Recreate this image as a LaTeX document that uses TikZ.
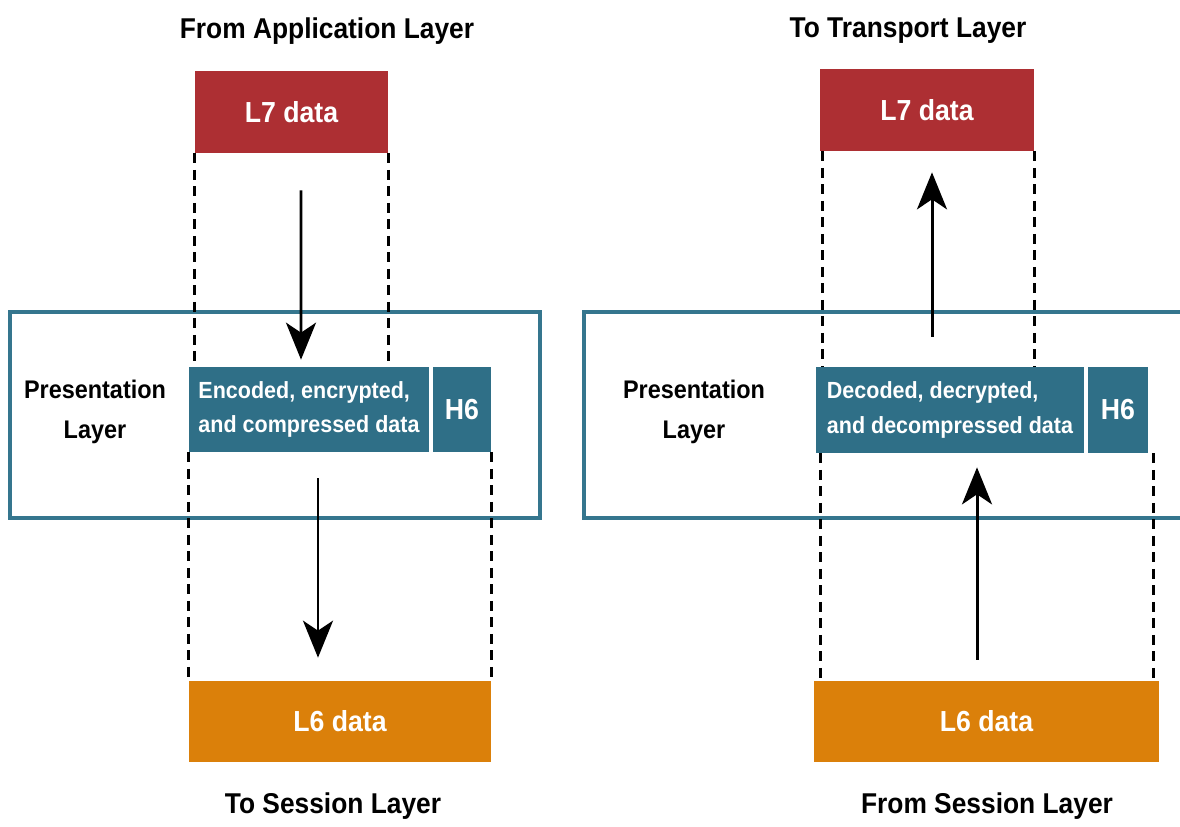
\documentclass[tikz,border=0pt]{standalone}
\usepackage{fontspec}
\setmainfont{Liberation Sans}[FakeStretch=0.92]
\usepackage{tikz}
\usetikzlibrary{arrows.meta,calc}
\definecolor{l7red}{HTML}{AD2F33}
\definecolor{p6teal}{HTML}{2F6F87}
\definecolor{frameteal}{HTML}{35768E}
\definecolor{l6orange}{HTML}{DB800A}

\begin{document}
\begin{tikzpicture}[x=0.02cm,y=-0.02cm,
  databox/.style={rectangle,inner sep=0pt,text=white,minimum height=1.64cm,
    font=\bfseries\fontsize{16.5}{19}\selectfont},
  title/.style={font=\bfseries\fontsize{16.3}{19}\selectfont},
  sidelabel/.style={align=center,font=\bfseries\fontsize{14.5}{22.7}\selectfont},
  inner/.style={align=left,font=\bfseries\fontsize{13.3}{19.5}\selectfont},
  guide/.style={line width=1.7pt,dash pattern=on 0.2cm off 0.13cm},
  flow/.style={line width=1.7pt,-{Stealth[length=0.74cm,width=0.6cm,inset=0.2cm]}},
  layer/.style={draw=frameteal,line width=2.3pt}]
\useasboundingbox (0,0) rectangle (1180,826);

% ---- sending side
\node[title] (fromapp) at (327,31) {From Application Layer};
\node[databox,fill=l7red,minimum width=3.86cm] (l7a) at (291.5,112) {L7 data};
\draw[layer] (10,312) rectangle (540,518);
\node[sidelabel] (presa) at (95,412) {Presentation\\Layer};
\node[databox,fill=p6teal,minimum width=4.8cm,minimum height=1.7cm,inner] (enca) at (309,409.5)
  {Encoded, encrypted,\\and compressed data};
\node[databox,fill=p6teal,minimum width=1.16cm,minimum height=1.7cm] (h6a) at (462,409.5) {H6};
\node[databox,fill=l6orange,minimum width=6.04cm,minimum height=1.62cm] (l6a) at (340,721.5) {L6 data};
\node[title] (tosess) at (333,806) {To Session Layer};

\draw[guide] (l7a.south west) -- (l7a.south west |- enca.north);
\draw[guide] (l7a.south east) -- (l7a.south east |- enca.north);
\draw[guide] (enca.south west) -- (enca.south west |- l6a.north);
\draw[guide] (h6a.south east) -- (h6a.south east |- l6a.north);
\draw[flow] ($(l7a.south)+(9.5,37)$) -- ($(enca.north)+(-8,-7)$);
\draw[flow] ($(enca.south)+(9,26)$) -- ($(l6a.north)+(-22,-23)$);

% ---- receiving side
\node[title] (totrans) at (908,31) {To Transport Layer};
\node[databox,fill=l7red,minimum width=4.28cm] (l7b) at (927,110) {L7 data};
\draw[layer] (1190,312) -- (584,312) -- (584,518) -- (1190,518);
\node[sidelabel] (presb) at (694,412) {Presentation\\Layer};
\node[databox,fill=p6teal,minimum width=5.36cm,minimum height=1.72cm,inner] (decb) at (950,410)
  {Decoded, decrypted,\\and decompressed data};
\node[databox,fill=p6teal,minimum width=1.2cm,minimum height=1.72cm] (h6b) at (1118,410) {H6};
\node[databox,fill=l6orange,minimum width=6.9cm,minimum height=1.62cm] (l6b) at (986.5,721.5) {L6 data};
\node[title] (fromsess) at (987,806) {From Session Layer};

\draw[guide] ([xshift=0.06cm]l7b.south west) -- ([xshift=0.06cm]l7b.south west |- decb.north);
\draw[guide] (l7b.south east) -- (l7b.south east |- decb.north);
\draw[guide] ([xshift=0.1cm]decb.south west) -- ([xshift=0.1cm]decb.south west |- l6b.north);
\draw[guide] ([xshift=0.1cm]h6b.south east) -- ([xshift=0.1cm]h6b.south east |- l6b.north);
\draw[flow] ($(decb.north)+(-18,-30)$) -- ($(l7b.south)+(5,21)$);
\draw[flow] ($(l6b.north)+(-9.5,-21)$) -- ($(decb.south)+(27,14)$);
\end{tikzpicture}
\end{document}
